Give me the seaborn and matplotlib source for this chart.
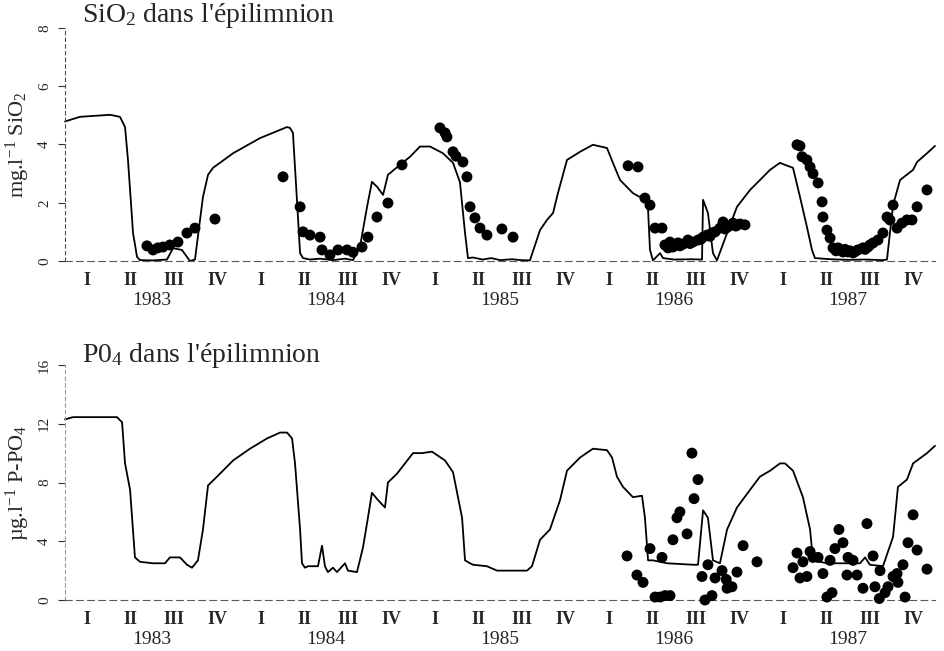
import numpy as np
import pandas as pd
import matplotlib
matplotlib.use("Agg")
import matplotlib.pyplot as plt
import matplotlib.transforms as mtransforms
import seaborn as sns

# ---------------- data ----------------
quarter_labels = ["I", "II", "III", "IV"]
years = [1983, 1984, 1985, 1986, 1987]

# SiO2 model (decimal year, mg/l)
sio2_model_t = [1983.000, 1983.086, 1983.259, 1983.316, 1983.345, 1983.362, 1983.391, 1983.414,
                1983.431, 1983.506, 1983.586, 1983.621, 1983.672, 1983.718, 1983.747, 1983.776,
                1983.793, 1983.822, 1983.851, 1983.966, 1984.121, 1984.276, 1984.293, 1984.310,
                1984.333, 1984.351, 1984.368, 1984.408, 1984.466, 1984.540, 1984.609, 1984.655,
                1984.695, 1984.736, 1984.764, 1984.793, 1984.828, 1984.856, 1984.925, 1984.983,
                1985.040, 1985.098, 1985.172, 1985.230, 1985.270, 1985.299, 1985.316, 1985.345,
                1985.400, 1985.450, 1985.500, 1985.570, 1985.620, 1985.672, 1985.730, 1985.770,
                1985.805, 1985.833, 1985.885, 1985.960, 1986.034, 1986.115, 1986.149, 1986.190,
                1986.264, 1986.333, 1986.351, 1986.362, 1986.379, 1986.420, 1986.437, 1986.500,
                1986.600, 1986.661, 1986.667, 1986.695, 1986.724, 1986.747, 1986.805, 1986.862,
                1986.937, 1986.994, 1987.052, 1987.109, 1987.138, 1987.184, 1987.224, 1987.264,
                1987.293, 1987.310, 1987.400, 1987.500, 1987.600, 1987.700, 1987.724, 1987.759,
                1987.799, 1987.874, 1987.897, 1987.954, 1988.000]
sio2_model_v = [4.79, 4.95, 5.02, 4.95, 4.60, 3.47, 0.96, 0.14,
                0.03, 0.02, 0.05, 0.44, 0.38, 0.00, 0.05, 1.41,
                2.20, 2.96, 3.20, 3.70, 4.22, 4.60, 4.57, 4.40,
                2.10, 0.27, 0.10, 0.05, 0.08, 0.03, 0.08, 0.03,
                0.48, 1.86, 2.72, 2.55, 2.27, 2.96, 3.30, 3.58,
                3.93, 3.93, 3.70, 3.37, 2.70, 0.96, 0.10, 0.12,
                0.05, 0.10, 0.03, 0.06, 0.03, 0.02, 1.06, 1.41,
                1.65, 2.33, 3.47, 3.75, 3.99, 3.88, 3.37, 2.78,
                2.33, 2.10, 1.75, 0.38, 0.02, 0.27, 0.10, 0.05,
                0.06, 0.05, 2.10, 1.65, 0.27, 0.02, 0.96, 1.86,
                2.44, 2.78, 3.13, 3.37, 3.30, 3.20, 2.20, 1.17,
                0.38, 0.10, 0.06, 0.04, 0.05, 0.03, 0.05, 1.92,
                2.78, 3.13, 3.40, 3.70, 3.95]

# SiO2 observations
sio2_obs_t = [1983.471, 1983.506, 1983.534, 1983.563, 1983.603, 1983.649, 1983.701, 1983.747, 1983.862,
              1984.253, 1984.351, 1984.368, 1984.408, 1984.466, 1984.477, 1984.523, 1984.569, 1984.621,
              1984.655, 1984.707, 1984.741, 1984.793, 1984.856, 1984.937,
              1985.155, 1985.184, 1985.195, 1985.230, 1985.247, 1985.287, 1985.310, 1985.328, 1985.356,
              1985.385, 1985.425, 1985.511, 1985.575,
              1986.236, 1986.293, 1986.333, 1986.362, 1986.391, 1986.431, 1986.448, 1986.466, 1986.477,
              1986.494, 1986.523, 1986.534, 1986.552, 1986.580, 1986.592, 1986.609, 1986.638, 1986.655,
              1986.667, 1986.690, 1986.707, 1986.718, 1986.736, 1986.764, 1986.782, 1986.793, 1986.810,
              1986.839, 1986.856, 1986.879, 1986.908,
              1987.207, 1987.224, 1987.236, 1987.264, 1987.282, 1987.299, 1987.328, 1987.351, 1987.356,
              1987.379, 1987.397, 1987.414, 1987.431, 1987.443, 1987.471, 1987.483, 1987.500, 1987.511,
              1987.529, 1987.540, 1987.557, 1987.586, 1987.598, 1987.615, 1987.626, 1987.644, 1987.672,
              1987.701, 1987.724, 1987.741, 1987.759, 1987.782, 1987.810, 1987.839, 1987.868, 1987.897,
              1987.954]
sio2_obs_v = [0.52, 0.38, 0.45, 0.48, 0.55, 0.65, 0.96, 1.13, 1.44,
              2.89, 1.86, 1.00, 0.89, 0.82, 0.38, 0.21, 0.38, 0.38,
              0.30, 0.48, 0.82, 1.51, 1.99, 3.30,
              4.57, 4.40, 4.26, 3.75, 3.60, 3.40, 2.89, 1.86, 1.48,
              1.13, 0.89, 1.10, 0.82,
              3.27, 3.23, 2.16, 1.92, 1.13, 1.13, 0.55, 0.45, 0.65,
              0.48, 0.62, 0.52, 0.58, 0.72, 0.60, 0.65, 0.72, 0.75,
              0.82, 0.89, 0.85, 0.96, 1.00, 1.13, 1.34, 1.10, 1.17,
              1.30, 1.20, 1.27, 1.24,
              3.99, 3.95, 3.58, 3.47, 3.23, 3.00, 2.68, 2.03, 1.51,
              1.06, 0.79, 0.45, 0.35, 0.45, 0.31, 0.40, 0.31, 0.35,
              0.28, 0.32, 0.38, 0.45, 0.40, 0.48, 0.55, 0.62, 0.72,
              0.96, 1.51, 1.41, 1.92, 1.13, 1.30, 1.41, 1.41, 1.86,
              2.44]

# PO4 model (decimal year, ug/l)
po4_model_t = [1983.000, 1983.046, 1983.299, 1983.328, 1983.345, 1983.374, 1983.402, 1983.431,
               1983.506, 1983.575, 1983.603, 1983.661, 1983.701, 1983.730, 1983.764, 1983.793,
               1983.822, 1983.874, 1983.966, 1984.063, 1984.161, 1984.236, 1984.276, 1984.305,
               1984.322, 1984.351, 1984.362, 1984.379, 1984.397, 1984.454, 1984.477, 1984.494,
               1984.511, 1984.540, 1984.563, 1984.609, 1984.626, 1984.678, 1984.713, 1984.741,
               1984.764, 1984.799, 1984.839, 1984.856, 1984.908, 1984.954, 1985.000, 1985.052,
               1985.109, 1985.184, 1985.230, 1985.282, 1985.299, 1985.328, 1985.345, 1985.425,
               1985.483, 1985.655, 1985.684, 1985.730, 1985.787, 1985.845, 1985.885, 1985.960,
               1986.034, 1986.115, 1986.144, 1986.172, 1986.207, 1986.264, 1986.316, 1986.333,
               1986.351, 1986.379, 1986.460, 1986.609, 1986.638, 1986.667, 1986.695, 1986.724,
               1986.764, 1986.805, 1986.862, 1986.937, 1986.994, 1987.052, 1987.109, 1987.138,
               1987.184, 1987.241, 1987.282, 1987.299, 1987.379, 1987.569, 1987.598, 1987.626,
               1987.701, 1987.759, 1987.787, 1987.839, 1987.874, 1987.954, 1988.000]
po4_model_v = [12.3, 12.45, 12.45, 12.1, 9.3, 7.5, 2.9, 2.6,
               2.5, 2.5, 2.9, 2.9, 2.4, 2.2, 2.7, 4.8,
               7.8, 8.4, 9.5, 10.3, 11.0, 11.4, 11.4, 11.0,
               9.3, 4.8, 2.5, 2.2, 2.3, 2.3, 3.7, 2.3,
               1.9, 2.2, 1.9, 2.5, 2.0, 1.9, 3.6, 5.6,
               7.3, 6.8, 6.3, 8.0, 8.6, 9.3, 10.0, 10.0,
               10.1, 9.5, 8.7, 5.6, 2.7, 2.5, 2.4, 2.3,
               2.0, 2.0, 2.3, 4.1, 4.8, 6.8, 8.8, 9.7,
               10.3, 10.2, 9.7, 8.4, 7.7, 7.0, 7.1, 5.6,
               2.7, 2.7, 2.5, 2.4, 2.4, 6.1, 5.6, 2.7,
               2.5, 4.8, 6.3, 7.5, 8.4, 8.8, 9.3, 9.3,
               8.8, 7.0, 4.8, 2.7, 2.5, 2.5, 2.9, 2.4,
               2.3, 4.3, 7.7, 8.2, 9.3, 10.0, 10.5]

# PO4 observations
po4_obs_t = [1986.230, 1986.287, 1986.322, 1986.362, 1986.391, 1986.420, 1986.431, 1986.448, 1986.477,
             1986.494, 1986.517, 1986.534, 1986.575, 1986.603, 1986.615, 1986.638, 1986.661, 1986.678,
             1986.695, 1986.718, 1986.736, 1986.776, 1986.800, 1986.805, 1986.833, 1986.862, 1986.897,
             1986.977,
             1987.184, 1987.207, 1987.224, 1987.241, 1987.264, 1987.282, 1987.299, 1987.328, 1987.356,
             1987.379, 1987.397, 1987.408, 1987.425, 1987.448, 1987.471, 1987.494, 1987.500, 1987.529,
             1987.552, 1987.586, 1987.609, 1987.644, 1987.655, 1987.680, 1987.684, 1987.713, 1987.730,
             1987.759, 1987.782, 1987.787, 1987.816, 1987.828, 1987.845, 1987.874, 1987.897, 1987.954]
po4_obs_v = [3.0, 1.7, 1.2, 3.5, 0.2, 0.2, 2.9, 0.3, 0.3,
             4.1, 5.6, 6.0, 4.5, 10.0, 6.9, 8.2, 1.6, 0.0,
             2.4, 0.3, 1.5, 2.0, 1.4, 0.8, 0.9, 1.9, 3.7,
             2.6,
             2.2, 3.2, 1.5, 2.6, 1.6, 3.3, 2.9, 2.9, 1.8,
             0.2, 2.7, 0.5, 3.5, 4.8, 3.9, 1.7, 2.9, 2.7,
             1.7, 0.8, 5.2, 3.0, 0.9, 0.1, 2.0, 0.5, 0.9,
             1.6, 1.8, 1.2, 2.4, 0.2, 3.9, 5.8, 3.4, 2.1]

sio2_model = pd.DataFrame({"t": sio2_model_t, "v": sio2_model_v})
sio2_obs = pd.DataFrame({"t": sio2_obs_t, "v": sio2_obs_v})
po4_model = pd.DataFrame({"t": po4_model_t, "v": po4_model_v})
po4_obs = pd.DataFrame({"t": po4_obs_t, "v": po4_obs_v})

# ---------------- style ----------------
sns.set_theme(style="white")
plt.rcParams["font.family"] = ["Liberation Serif", "DejaVu Serif"]
plt.rcParams["mathtext.fontset"] = "custom"
plt.rcParams["mathtext.rm"] = "Liberation Serif"
plt.rcParams["mathtext.it"] = "Liberation Serif:italic"

fig = plt.figure(figsize=(9.44, 6.51), dpi=100)
ax1 = fig.add_axes([65 / 944, 1 - 261 / 651, 870 / 944, 233 / 651])
ax2 = fig.add_axes([65 / 944, 1 - 600 / 651, 870 / 944, 235 / 651])

quarter_pos = [y + (q + 0.5) / 4 for y in years for q in range(4)]
quarter_txt = [quarter_labels[q] for y in years for q in range(4)]


def style_axis(ax, ylim, yticks, title, ylabel, title_y, label_y):
    ax.set_xlim(1983.0, 1988.0)
    ax.set_ylim(*ylim)
    ax.set_yticks(yticks)
    ax.set_yticklabels([str(v) for v in yticks], rotation=90, va="center", fontsize=11)
    ax.tick_params(axis="y", length=5, width=0.8, pad=5, left=True, color="0.2")
    ax.set_xticks(quarter_pos)
    ax.set_xticklabels(quarter_txt, fontsize=13, fontweight="bold")
    ax.tick_params(axis="x", length=0, pad=8)
    for s in ["top", "right"]:
        ax.spines[s].set_visible(False)
    ax.spines["left"].set_linestyle((0, (3, 3)))
    ax.spines["left"].set_linewidth(0.8)
    ax.spines["left"].set_color("0.3")
    ax.spines["bottom"].set_linestyle((0, (6, 4)))
    ax.spines["bottom"].set_linewidth(0.8)
    ax.spines["bottom"].set_color("0.35")
    ax.set_xlabel("")
    trans = mtransforms.blended_transform_factory(ax.transData, ax.transAxes)
    for y in years:
        ax.text(y + 0.5, label_y, str(y), transform=trans, ha="center", va="center", fontsize=14)
    fig.text(82 / 944, title_y, title, ha="left", va="center", fontsize=20)
    ax.set_ylabel(ylabel, fontsize=16, labelpad=0)
    ax.yaxis.set_label_coords(-0.038, 0.5)


# ---- top panel: SiO2 ----
sns.lineplot(data=sio2_model, x="t", y="v", ax=ax1, color="black", linewidth=1.3,
             estimator=None, sort=False, clip_on=False)
sns.scatterplot(data=sio2_obs, x="t", y="v", ax=ax1, color="black", s=62,
                edgecolor="none", clip_on=False, zorder=3)
style_axis(ax1, (0, 8), [0, 2, 4, 6, 8], "SiO$_2$ dans l'épilimnion",
           "mg.l$^{-1}$ SiO$_2$", 1 - 16 / 651, -0.168)

# ---- bottom panel: PO4 ----
sns.lineplot(data=po4_model, x="t", y="v", ax=ax2, color="black", linewidth=1.3,
             estimator=None, sort=False, clip_on=False)
sns.scatterplot(data=po4_obs, x="t", y="v", ax=ax2, color="black", s=62,
                edgecolor="none", clip_on=False, zorder=3)
style_axis(ax2, (0, 16), [0, 4, 8, 12, 16], "P0$_4$ dans l'épilimnion",
           "µg.l$^{-1}$ P-PO$_4$", 1 - 356 / 651, -0.17)
ax2.spines["left"].set_color("0.6")

fig.savefig("out.png", dpi=100)
